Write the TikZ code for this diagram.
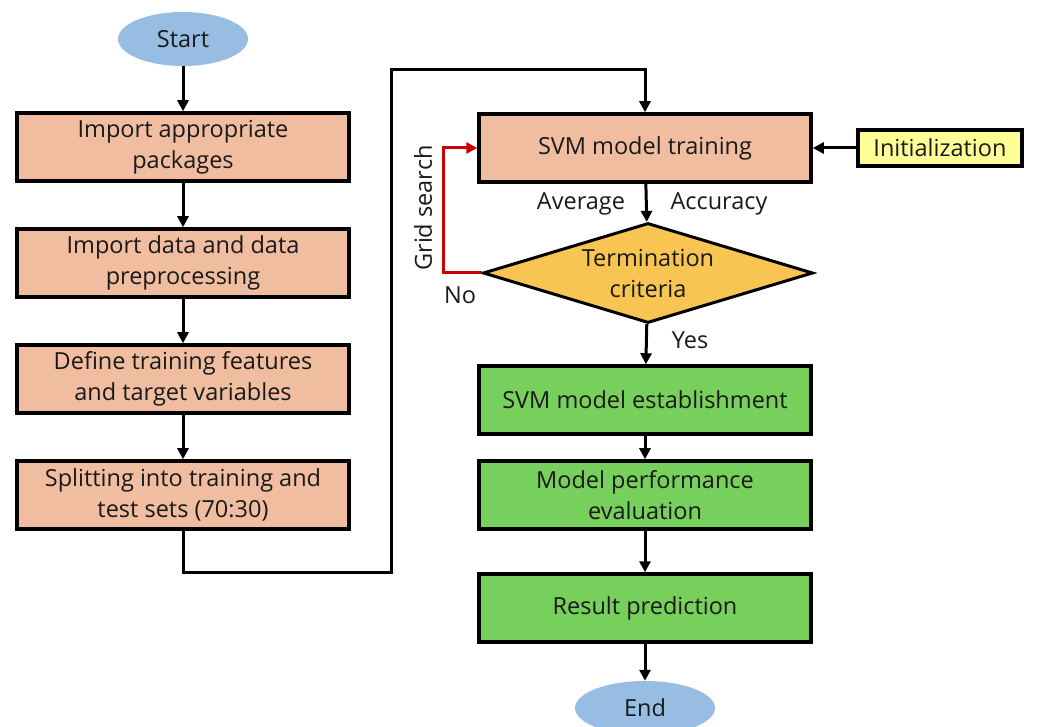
\documentclass[tikz,border=0pt]{standalone}
\usepackage{fontspec}
\setmainfont{Open Sans}
\usetikzlibrary{shapes.geometric,arrows.meta}

\definecolor{salmon}{RGB}{241,189,160}
\definecolor{leaf}{RGB}{120,208,92}
\definecolor{sky}{RGB}{151,190,226}
\definecolor{gold}{RGB}{248,196,82}
\definecolor{lemon}{RGB}{255,255,150}
\definecolor{ink}{RGB}{25,25,25}

\tikzset{
	box/.style={draw=black, line width=3.5pt, minimum width=332pt, minimum height=68pt, align=center, inner sep=0pt, text=ink},
	prep/.style={box, fill=salmon},
	model/.style={box, fill=leaf},
	term/.style={ellipse, fill=sky, minimum width=130pt, minimum height=54pt, inner sep=0pt, text=ink},
	arr/.style={line width=3pt, -{Triangle[length=11pt, width=11pt]}},
	lab/.style={text=ink, inner sep=0pt},
}

\begin{document}
\begin{tikzpicture}[x=1pt, y=-1pt, font=\fontsize{23.5}{31}\selectfont]
			\useasboundingbox (0, 0) rectangle (1045, 727);
			
			\node[term] (start) at (183, 39) {Start};
			\node[prep] (imp) at (183, 147) {Import appropriate\\packages};
			\node[prep] (data) at (183, 263) {Import data and data\\preprocessing};
			\node[prep] (feat) at (183, 379) {Define training features\\and target variables};
			\node[prep] (split) at (183, 495) {Splitting into training and\\test sets (70:30)};
			
			\node[prep] (train) at (645, 148) {SVM model training};
			\node[draw=black, line width=3.5pt, fill=lemon, minimum width=164pt, minimum height=36pt, inner sep=0pt, text=ink] (init) at (940, 148) {Initialization};
			\node[diamond, draw=black, line width=3pt, fill=gold, aspect=3.3, minimum width=330pt, minimum height=100pt, inner sep=0pt, align=center, text=ink] (crit) at (648, 273) {Termination\\criteria};
			\node[model] (est) at (645, 400) {SVM model establishment};
			\node[model] (eval) at (645, 495) {Model performance\\evaluation};
			\node[model] (pred) at (645, 608) {Result prediction};
			\node[term, minimum width=140pt] (end) at (645, 708) {End};
			
			\coordinate (r1) at (391, 572);
			\coordinate (r2) at (391, 70);
			\coordinate (g1) at (443, 273);
			
			\foreach \a/\b in {start/imp, imp/data, data/feat, feat/split, train/crit, crit/est, est/eval, eval/pred, pred/end}{
				\draw[arr] (\a) -- (\b);
			}
			\draw[arr] (split.south) |- (r1) -- (r2) -| (train.north);
			\draw[arr] (init) -- (train);
			\draw[arr, red!80!black] (crit.west) -- (g1) |- (train.west);
			
			\node[lab] (avg) at (581, 204) {Average};
			\node[lab] (acc) at (719, 204) {Accuracy};
			\node[lab] (yes) at (690, 340) {Yes};
			\node[lab] (no) at (460, 295) {No};
			\node[lab, rotate=90] (grid) at (423, 208) {Grid search};
		\end{tikzpicture}
\end{document}
